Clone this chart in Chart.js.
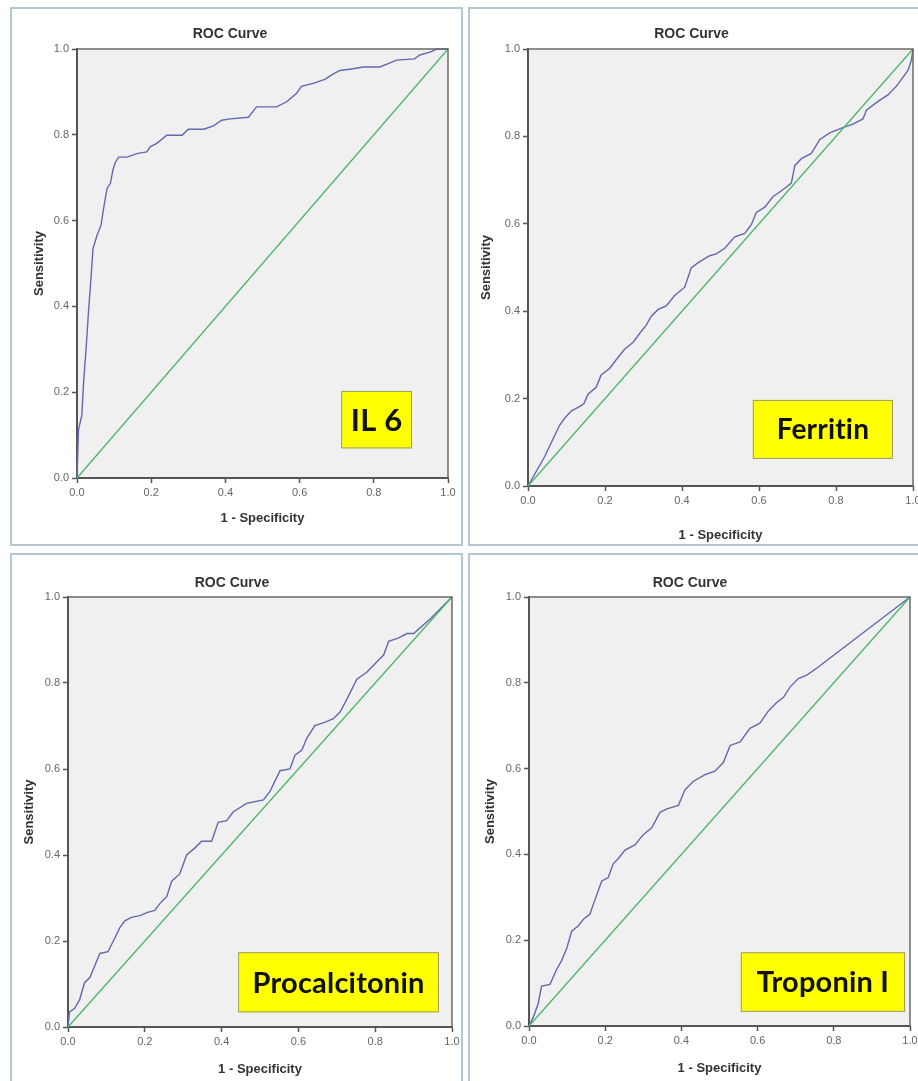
<!DOCTYPE html>
<html>
<head>
<meta charset="utf-8">
<script src="https://cdn.jsdelivr.net/npm/chart.js@4.4.1/dist/chart.umd.min.js"></script>
<style>
  body { margin: 0; background: #fff; width: 918px; height: 1081px; overflow: hidden; position: relative; }
  .panel { position: absolute; box-sizing: border-box; border: 2px solid #b4c8d2; background: #fff; }
  canvas { position: absolute; }
</style>
</head>
<body>
<div class="panel" style="left:10px;top:7px;width:453px;height:539px"></div>
<div class="panel" style="left:468px;top:7px;width:460px;height:539px"></div>
<div class="panel" style="left:10px;top:553px;width:453px;height:540px"></div>
<div class="panel" style="left:468px;top:553px;width:460px;height:540px"></div>
<canvas id="c1"></canvas>
<canvas id="c2"></canvas>
<canvas id="c3"></canvas>
<canvas id="c4"></canvas>
<script>
// axis ticks and reference line
const tickValues = [0, 0.2, 0.4, 0.6, 0.8, 1.0];
const diagX = [0, 1];
const diagY = [0, 1];

// IL 6
const il6Fpr = [0, 0.004, 0.013, 0.018, 0.025, 0.031, 0.038, 0.043, 0.054, 0.065, 0.072, 0.081, 0.090, 0.097, 0.103, 0.112, 0.135, 0.161, 0.188, 0.197, 0.215, 0.242, 0.283, 0.300, 0.341, 0.368, 0.390, 0.413, 0.462, 0.484, 0.538, 0.565, 0.592, 0.605, 0.641, 0.668, 0.691, 0.709, 0.744, 0.771, 0.816, 0.839, 0.861, 0.910, 0.924, 0.955, 0.969, 1];
const il6Tpr = [0, 0.113, 0.146, 0.226, 0.307, 0.388, 0.469, 0.534, 0.566, 0.590, 0.630, 0.675, 0.687, 0.719, 0.735, 0.748, 0.748, 0.756, 0.760, 0.772, 0.780, 0.799, 0.799, 0.813, 0.813, 0.821, 0.834, 0.837, 0.841, 0.865, 0.865, 0.877, 0.897, 0.913, 0.921, 0.929, 0.942, 0.950, 0.954, 0.958, 0.958, 0.966, 0.974, 0.977, 0.986, 0.994, 1.0, 1];

// Ferritin
const ferFpr = [0, 0.043, 0.082, 0.095, 0.113, 0.130, 0.145, 0.156, 0.177, 0.190, 0.212, 0.229, 0.251, 0.273, 0.290, 0.307, 0.320, 0.338, 0.359, 0.381, 0.407, 0.424, 0.442, 0.472, 0.489, 0.511, 0.537, 0.563, 0.580, 0.593, 0.615, 0.636, 0.662, 0.684, 0.693, 0.710, 0.736, 0.758, 0.784, 0.814, 0.844, 0.870, 0.879, 0.909, 0.935, 0.957, 0.987, 0.996, 1];
const ferTpr = [0, 0.067, 0.139, 0.155, 0.172, 0.180, 0.188, 0.210, 0.226, 0.254, 0.269, 0.289, 0.313, 0.329, 0.349, 0.368, 0.388, 0.404, 0.412, 0.436, 0.455, 0.499, 0.511, 0.527, 0.531, 0.544, 0.570, 0.578, 0.598, 0.626, 0.638, 0.662, 0.678, 0.693, 0.733, 0.749, 0.761, 0.793, 0.808, 0.819, 0.828, 0.840, 0.860, 0.880, 0.895, 0.915, 0.951, 0.975, 1];

// Procalcitonin
const pctFpr = [0, 0.004, 0.017, 0.030, 0.043, 0.057, 0.070, 0.083, 0.104, 0.122, 0.135, 0.148, 0.165, 0.187, 0.209, 0.226, 0.239, 0.257, 0.270, 0.291, 0.309, 0.330, 0.348, 0.374, 0.391, 0.413, 0.430, 0.465, 0.509, 0.526, 0.552, 0.578, 0.591, 0.609, 0.622, 0.643, 0.670, 0.691, 0.709, 0.730, 0.752, 0.778, 0.804, 0.822, 0.835, 0.861, 0.883, 0.900, 0.943, 1];
const pctTpr = [0, 0.035, 0.043, 0.063, 0.103, 0.115, 0.143, 0.171, 0.175, 0.207, 0.231, 0.247, 0.255, 0.259, 0.267, 0.271, 0.287, 0.303, 0.339, 0.356, 0.400, 0.416, 0.432, 0.432, 0.476, 0.480, 0.500, 0.520, 0.528, 0.548, 0.596, 0.600, 0.632, 0.644, 0.672, 0.701, 0.709, 0.717, 0.733, 0.769, 0.809, 0.825, 0.849, 0.865, 0.897, 0.905, 0.915, 0.915, 0.949, 1];

// Troponin I
const tropFpr = [0, 0.011, 0.024, 0.033, 0.055, 0.073, 0.086, 0.099, 0.112, 0.129, 0.143, 0.160, 0.173, 0.191, 0.208, 0.221, 0.234, 0.252, 0.278, 0.300, 0.322, 0.344, 0.362, 0.392, 0.409, 0.431, 0.462, 0.488, 0.510, 0.528, 0.554, 0.580, 0.606, 0.628, 0.650, 0.668, 0.685, 0.707, 0.729, 0.755, 1];
const tropTpr = [0, 0.020, 0.052, 0.093, 0.097, 0.133, 0.153, 0.181, 0.221, 0.233, 0.249, 0.261, 0.294, 0.338, 0.346, 0.378, 0.390, 0.410, 0.422, 0.446, 0.462, 0.498, 0.506, 0.514, 0.550, 0.570, 0.586, 0.594, 0.614, 0.654, 0.662, 0.694, 0.706, 0.734, 0.754, 0.766, 0.790, 0.810, 0.818, 0.834, 1];

// page layout (pixels) for each panel: canvas rect, plot rect, text positions, marker box in data units
const panels = [
  { id: "c1", fpr: il6Fpr, tpr: il6Tpr, label: "IL 6",
    canvas: [12, 9, 449, 535], plot: [77, 49, 448, 478], titleY: 34, xTitleY: 518, yTitleX: 39,
    box: [0.712, 0.203, 0.903, 0.069], boxFont: 31 },
  { id: "c2", fpr: ferFpr, tpr: ferTpr, label: "Ferritin",
    canvas: [470, 9, 448, 535], plot: [528, 49, 913, 486], titleY: 34, xTitleY: 535, yTitleX: 486,
    box: [0.584, 0.197, 0.948, 0.062], boxFont: 28 },
  { id: "c3", fpr: pctFpr, tpr: pctTpr, label: "Procalcitonin",
    canvas: [12, 555, 449, 526], plot: [68, 597, 452, 1027], titleY: 583, xTitleY: 1069, yTitleX: 29,
    box: [0.443, 0.174, 0.966, 0.034], boxFont: 29 },
  { id: "c4", fpr: tropFpr, tpr: tropTpr, label: "Troponin I",
    canvas: [470, 555, 448, 526], plot: [529, 597, 910, 1026], titleY: 583, xTitleY: 1068, yTitleX: 490,
    box: [0.556, 0.172, 0.987, 0.033], boxFont: 29 }
];

const frame = {
  id: "frame",
  beforeDraw(chart) {
    const a = chart.chartArea, ctx = chart.ctx;
    ctx.save();
    ctx.fillStyle = "#f0f0f0";
    ctx.fillRect(a.left, a.top, a.width, a.height);
    ctx.restore();
  },
  afterDatasetsDraw(chart, args, opts) {
    const a = chart.chartArea, ctx = chart.ctx;
    const sx = chart.scales.x, sy = chart.scales.y;
    ctx.save();
    // top and right edges of the plot box
    ctx.strokeStyle = "#6a6a6a";
    ctx.lineWidth = 1.5;
    ctx.beginPath();
    ctx.moveTo(a.left, a.top);
    ctx.lineTo(a.right, a.top);
    ctx.lineTo(a.right, a.bottom);
    ctx.stroke();
    // yellow marker box
    const x0 = sx.getPixelForValue(opts.box[0]), x1 = sx.getPixelForValue(opts.box[2]);
    const y0 = sy.getPixelForValue(opts.box[1]), y1 = sy.getPixelForValue(opts.box[3]);
    ctx.fillStyle = "#ffff00";
    ctx.fillRect(x0, y0, x1 - x0, y1 - y0);
    ctx.strokeStyle = "#9c9c70";
    ctx.lineWidth = 1;
    ctx.strokeRect(x0 + 0.5, y0 + 0.5, x1 - x0 - 1, y1 - y0 - 1);
    ctx.fillStyle = "#111";
    ctx.font = "bold " + opts.size + "px Lato, 'Open Sans', sans-serif";
    ctx.letterSpacing = "0.2px"; // keeps "ti" from turning into a ligature
    ctx.textAlign = "center";
    ctx.textBaseline = "middle";
    ctx.fillText(opts.text, (x0 + x1) / 2, (y0 + y1) / 2 + 1);
    ctx.restore();
  }
};

const titleSize = 14, axisTitleSize = 13, tickSize = 11;

function makeChart(p) {
  const cv = document.getElementById(p.id);
  const [cx, cy, cw, ch] = p.canvas;
  cv.width = cw;
  cv.height = ch;
  cv.style.left = cx + "px";
  cv.style.top = cy + "px";

  const left = p.plot[0] - cx, top = p.plot[1] - cy;
  const right = p.plot[2] - cx, bottom = p.plot[3] - cy;
  const titleLH = titleSize * 1.2, axisLH = axisTitleSize * 1.2;
  const titlePadTop = p.titleY - cy - titleLH / 2;
  const titlePadBottom = top - titlePadTop - titleLH;
  const xAxisH = ch - bottom;
  const xTitlePad = (ch - (p.xTitleY - cy)) - axisLH / 2;
  const yTitlePad = (p.yTitleX - cx) - axisLH / 2;

  const curve = p.fpr.map((v, i) => ({ x: v, y: p.tpr[i] }));
  const diag = diagX.map((v, i) => ({ x: v, y: diagY[i] }));

  const fitX = s => { s.height = xAxisH; s.paddingLeft = 0; s.paddingRight = 0; };
  const fitY = s => { s.width = left; s.paddingTop = 0; s.paddingBottom = 0; };
  const setTicks = s => { s.ticks = tickValues.map(v => ({ value: v })); };

  const axis = (fit, titleText, titlePad) => ({
    type: "linear",
    min: 0,
    max: 1,
    afterFit: fit,
    afterBuildTicks: setTicks,
    ticks: {
      callback: v => v.toFixed(1),
      font: { family: "Arial, 'Liberation Sans'", size: tickSize },
      color: "#666",
      padding: 3
    },
    grid: { drawOnChartArea: false, tickLength: 5, tickColor: "#555", tickWidth: 1.5 },
    border: { color: "#555", width: 2 },
    title: {
      display: true,
      text: titleText,
      color: "#333",
      font: { family: "Arial, 'Liberation Sans'", size: axisTitleSize, weight: "bold" },
      padding: titlePad
    }
  });

  new Chart(cv, {
    type: "scatter",
    data: {
      datasets: [
        { data: diag, showLine: true, borderColor: "#4fb46c", borderWidth: 1.3, pointRadius: 0 },
        { data: curve, showLine: true, borderColor: "#6168ad", borderWidth: 1.4, pointRadius: 0, tension: 0 }
      ]
    },
    options: {
      responsive: false,
      animation: false,
      devicePixelRatio: 1,
      clip: 2,
      layout: { padding: { left: 0, right: cw - right, top: 0, bottom: 0 } },
      plugins: {
        legend: { display: false },
        tooltip: { enabled: false },
        title: {
          display: true,
          text: "ROC Curve",
          color: "#333",
          font: { family: "Arial, 'Liberation Sans'", size: titleSize, weight: "bold" },
          padding: { top: titlePadTop, bottom: titlePadBottom }
        },
        frame: { box: p.box, text: p.label, size: p.boxFont }
      },
      scales: {
        x: axis(fitX, "1 - Specificity", { top: 0, bottom: xTitlePad }),
        y: axis(fitY, "Sensitivity", { top: yTitlePad, bottom: 0 })
      }
    },
    plugins: [frame]
  });
}

panels.forEach(makeChart);
</script>
</body>
</html>
